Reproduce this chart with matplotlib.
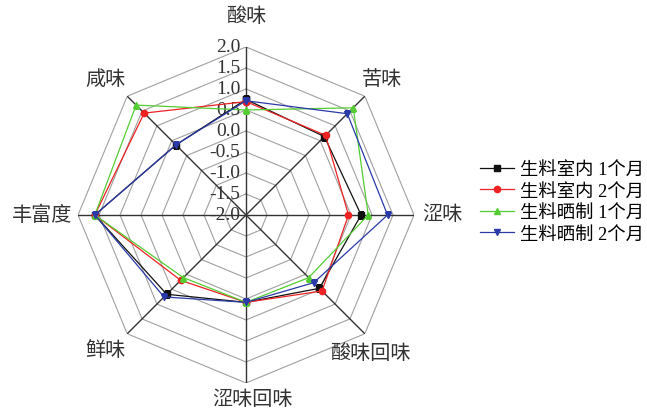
import numpy as np
import matplotlib
matplotlib.use('Agg')
import matplotlib.pyplot as plt

plt.rcParams['font.family'] = ['Liberation Serif', 'Noto Sans CJK SC']

labels = ['酸味', '苦味', '涩味', '酸味回味', '涩味回味', '鲜味', '丰富度', '咸味']
series_names = ['生料室内 1个月', '生料室内 2个月', '生料晒制 1个月', '生料晒制 2个月']
indoor_1m = [0.75, 0.64, 0.74, 0.47, 0.08, 0.67, 1.60, 0.36]
indoor_2m = [0.70, 0.68, 0.44, 0.56, 0.08, 0.20, 1.60, 1.43]
sun_1m = [0.50, 1.61, 0.91, 0.11, 0.08, 0.11, 1.60, 1.70]
sun_2m = [0.72, 1.41, 1.37, 0.28, 0.08, 0.76, 1.60, 0.36]
rticks = [-2.0, -1.5, -1.0, -0.5, 0.0, 0.5, 1.0, 1.5, 2.0]

colors = ['#111111', '#ee2222', '#55cc33', '#2a3aa8']
markers = ['s', 'o', '^', 'v']

n = len(labels)
theta = np.arange(n) * 2 * np.pi / n
theta_c = np.append(theta, theta[0])

fig = plt.figure(figsize=(6.47, 4.14), dpi=100)
ax = fig.add_axes([0.1206, 0.0725, 0.5193, 0.8116], projection='polar')
ax.set_theta_offset(np.pi / 2)
ax.set_theta_direction(-1)
ax.set_ylim(-2, 2)
ax.grid(False)
ax.spines['polar'].set_visible(False)
ax.set_xticks([])
ax.set_yticks([])
ax.patch.set_alpha(0)

# octagon rings
for v in rticks[1:]:
    ax.plot(theta_c, [v] * (n + 1), color='#a0a0a0', lw=0.8, zorder=1)
# spokes
for t in theta:
    ax.plot([t, t], [-2, 2], color='#333333', lw=1.0, zorder=2)

# radial labels on the top axis
for v in rticks:
    ax.annotate(f'{v:.1f}', (0, v), xytext=(-4, 0), textcoords='offset points',
                ha='right', va='center', fontsize=14, color='#333333')

# category labels
label_pos = [
    ((0, 22), 'center', 'center'),
    ((12, 12), 'center', 'center'),
    ((6, 0), 'left', 'center'),
    ((-25, -14), 'left', 'center'),
    ((5, -12), 'center', 'center'),
    ((-16, -12), 'center', 'center'),
    ((-4, 0), 'right', 'center'),
    ((-16, 12), 'center', 'center'),
]
for t, lab, (off, ha, va) in zip(theta, labels, label_pos):
    ax.annotate(lab, (t, 2), xytext=off, textcoords='offset points',
                ha=ha, va=va, fontsize=14.5, color='#333333',
                annotation_clip=False)

data = [indoor_1m, indoor_2m, sun_1m, sun_2m]
handles = []
for vals, c, m, name in zip(data, colors, markers, series_names):
    h, = ax.plot(theta_c, vals + vals[:1], color=c, lw=0.9, marker=m,
                 markersize=4.5, label=name, zorder=3)
    handles.append(h)

fig.legend(handles=handles, loc='center left', bbox_to_anchor=(0.73, 0.51),
           frameon=False, fontsize=13.2, handlelength=1.9, handletextpad=0.3,
           labelspacing=0.25, borderaxespad=0)

fig.savefig('out.png', dpi=100)
